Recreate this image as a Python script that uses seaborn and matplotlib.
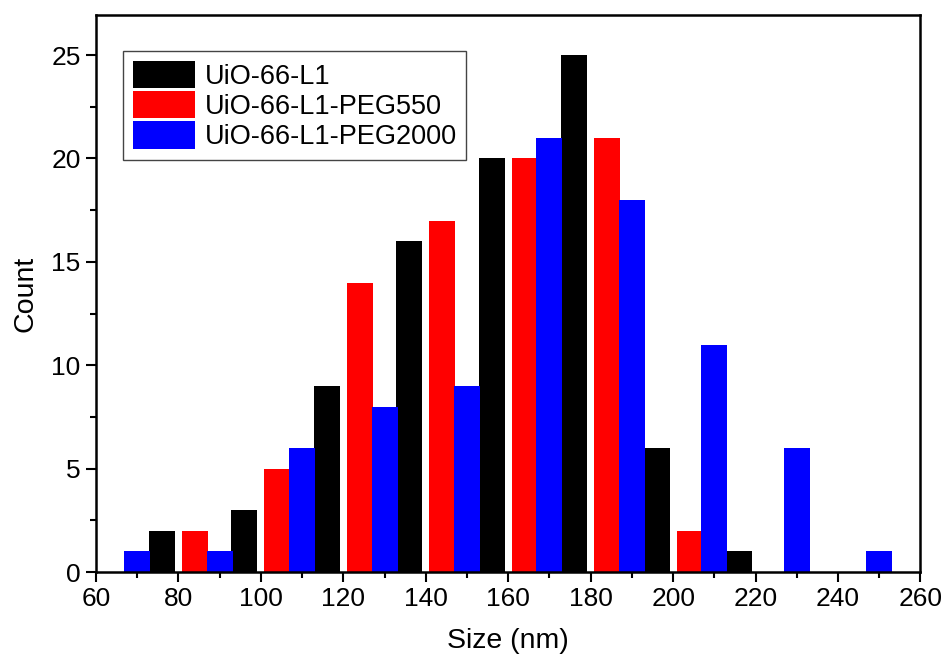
import matplotlib
matplotlib.use("Agg")
import matplotlib.pyplot as plt
import seaborn as sns
import numpy as np
from matplotlib.ticker import MultipleLocator

# Data (bin positions in nm and counts)
labels = ["UiO-66-L1", "UiO-66-L1-PEG550", "UiO-66-L1-PEG2000"]
colors = ["#000000", "#FF0000", "#0000FF"]

l1_size = [76, 96, 116, 136, 156, 176, 196, 216]
l1_count = [2, 3, 9, 16, 20, 25, 6, 1]

peg550_size = [84, 104, 124, 144, 164, 184, 204]
peg550_count = [2, 5, 14, 17, 20, 21, 2]

peg2000_size = [70, 90, 110, 130, 150, 170, 190, 210, 230, 250]
peg2000_count = [1, 1, 6, 8, 9, 21, 18, 11, 6, 1]

xticks = [60, 80, 100, 120, 140, 160, 180, 200, 220, 240, 260]
yticks = [0, 5, 10, 15, 20, 25]

sns.set_style("ticks")
plt.rcParams["font.family"] = ["Liberation Sans", "DejaVu Sans"]
plt.rcParams["text.color"] = "black"
plt.rcParams["axes.labelcolor"] = "black"
plt.rcParams["xtick.color"] = "black"
plt.rcParams["ytick.color"] = "black"

fig = plt.figure(figsize=(9.46, 6.61), dpi=100)
ax = fig.add_axes([0.1015, 0.1346, 0.8715, 0.8424])

series = [(l1_size, l1_count), (peg550_size, peg550_count), (peg2000_size, peg2000_count)]
for (xs, ys), lab, col in zip(series, labels, colors):
    sns.barplot(x=xs, y=ys, native_scale=True, width=0.315, color=col,
                saturation=1, linewidth=0, errorbar=None, label=lab, ax=ax)

ax.set_xlim(60, 260)
ax.set_ylim(0, 26.93)
ax.set_xticks(xticks)
ax.set_yticks(yticks)
ax.xaxis.set_minor_locator(MultipleLocator(10))
ax.yaxis.set_minor_locator(MultipleLocator(2.5))
ax.tick_params(axis="both", which="major", direction="out", length=7, width=1.5,
               labelsize=19, top=False, right=False, color="black",
               labelcolor="black", pad=4)
ax.tick_params(axis="both", which="minor", direction="out", length=4, width=1.5,
               top=False, right=False, color="black")
for sp in ax.spines.values():
    sp.set_visible(True)
    sp.set_linewidth(1.8)
    sp.set_color("black")

ax.set_xlabel("Size (nm)", fontsize=20.5, labelpad=12, color="black")
ax.set_ylabel("Count", fontsize=20.5, labelpad=9, color="black")

leg = ax.legend(loc="upper left", bbox_to_anchor=(0.033, 0.935), borderaxespad=0,
                fontsize=19.5, handlelength=2.3, handleheight=1.18, labelspacing=0.05,
                handletextpad=0.35, borderpad=0.35, fancybox=False, framealpha=1,
                edgecolor="#444444")
leg.get_frame().set_linewidth(1.0)
for t in leg.get_texts():
    t.set_color("black")

fig.savefig("out.png", dpi=100)
